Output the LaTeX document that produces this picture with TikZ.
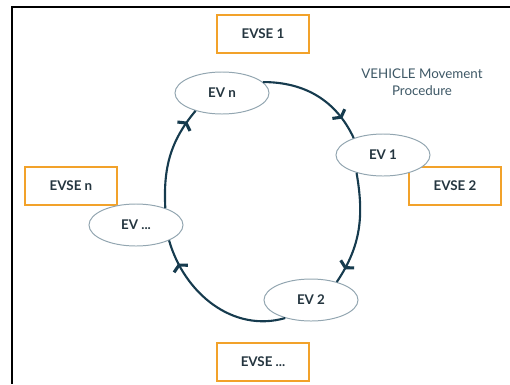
\documentclass[tikz,border=0pt]{standalone}
\usepackage{fontspec}
\setmainfont{Lato}
\usetikzlibrary{shapes.geometric, arrows.meta, positioning, decorations.markings}
\definecolor{evseorange}{HTML}{F2A22A}
\definecolor{evgray}{HTML}{93A6B1}
\definecolor{evtext}{HTML}{24353F}
\definecolor{loopnavy}{HTML}{163B4E}
\definecolor{titletext}{HTML}{3E5866}
\tikzstyle{station} = [rectangle, draw=evseorange, line width=1.5pt, minimum width=2.3cm, minimum height=0.95cm, text centered, text=evtext, font=\bfseries\fontsize{9.5}{11}\selectfont]
\tikzstyle{vehicle} = [ellipse, draw=evgray, line width=0.7pt, fill=white, minimum width=2.35cm, minimum height=1.05cm, text centered, text=evtext, font=\bfseries\fontsize{9.5}{11}\selectfont]
\tikzstyle{loop} = [draw=loopnavy, line width=1.5pt]
\tikzstyle{titlenode} = [text=titletext, align=center, font=\fontsize{9.5}{12.5}\selectfont]
\tikzset{tickat/.style={postaction={decorate, decoration={markings, mark=at position #1 with {\arrow[loopnavy]{Straight Barb[length=3pt, width=11pt, line width=2.2pt]}}}}}}

\begin{document}
\begin{tikzpicture}[x=0.025cm, y=0.025cm]
\useasboundingbox (0,0) rectangle (510,384);

% outer frame
\draw [line width=1.4pt] (510,377) -- (12,377) -- (12,0);

% --- Charging stations ---
\node (evse1) [station] at (263,350) {EVSE 1};
\node (evsen) [station] at (71,198) {EVSE n};
\node (evse2) [station] at (455,198) {EVSE 2};
\node (evsedots) [station] at (263,22) {EVSE ...};

% --- Vehicles ---
\node (evn) [vehicle] at (222,291) {EV n};
\node (ev1) [vehicle] at (383,229) {EV 1};
\node (evdots) [vehicle] at (136,159) {EV ...};
\node (ev2) [vehicle] at (311,84) {EV 2};

% --- Title ---
\node (title) [titlenode] at (422,302) {VEHICLE Movement\\Procedure};

% --- Movement loop ---
\draw [loop, tickat=0.8] (evn.15) to[out=0, in=115] (ev1.150);
\draw [loop, tickat=0.87] (ev1.214) to[out=-80, in=56] (ev2.35);
\draw [loop, tickat=0.84] (ev2.215) to[out=196, in=-74] (evdots.-25);
\draw [loop, tickat=0.87] (evdots.30) to[out=93, in=230] (evn.214);

\end{tikzpicture}
\end{document}
